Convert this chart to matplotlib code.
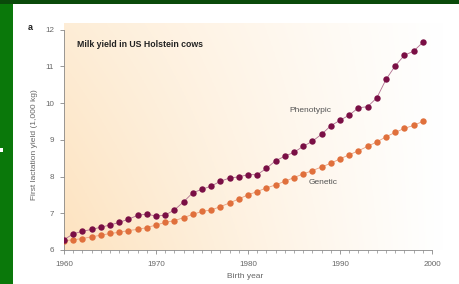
import numpy as np
import matplotlib
matplotlib.use("Agg")
import matplotlib.pyplot as plt
from matplotlib.patches import Rectangle
from matplotlib.colors import to_rgb

years = list(range(1960, 2000))

phenotypic = [6.28, 6.44, 6.51, 6.56, 6.62, 6.68, 6.75, 6.84, 6.94, 6.98,
              6.92, 6.95, 7.09, 7.31, 7.56, 7.65, 7.74, 7.87, 7.96, 7.99,
              8.05, 8.05, 8.22, 8.43, 8.55, 8.66, 8.82, 8.96, 9.15, 9.38,
              9.53, 9.67, 9.87, 9.90, 10.14, 10.64, 11.01, 11.30, 11.41, 11.65]

genetic = [6.25, 6.28, 6.31, 6.36, 6.40, 6.45, 6.48, 6.53, 6.56, 6.61,
           6.68, 6.75, 6.80, 6.88, 6.97, 7.05, 7.09, 7.18, 7.28, 7.39,
           7.50, 7.59, 7.69, 7.77, 7.87, 7.97, 8.07, 8.16, 8.26, 8.36,
           8.48, 8.59, 8.70, 8.82, 8.94, 9.08, 9.20, 9.31, 9.39, 9.50]

x_ticks = [1960, 1970, 1980, 1990, 2000]
y_ticks = [6, 7, 8, 9, 10, 11, 12]

plt.rcParams["font.family"] = ["Liberation Sans", "DejaVu Sans"]

W, H = 459, 284
fig = plt.figure(figsize=(W / 100, H / 100), dpi=100)
fig.patch.set_facecolor("#0a780a")

# white panel and dark top strip
fig.patches.append(Rectangle((13 / W, 0), 1, 1 - 4 / H, transform=fig.transFigure,
                             facecolor="white", edgecolor="none", zorder=-10))
fig.patches.append(Rectangle((0, 1 - 4 / H), 1, 4 / H, transform=fig.transFigure,
                             facecolor="#0a4a0a", edgecolor="none", zorder=-10))
fig.patches.append(Rectangle((0, 1 - 152 / H), 3 / W, 4 / H, transform=fig.transFigure,
                             facecolor="white", edgecolor="none", zorder=-10))

ax = fig.add_axes([64 / W, 1 - 250 / H, 368 / W, 220.5 / H])
ax.set_facecolor("none")

# peach gradient background
nx, ny = 200, 100
xn = np.linspace(0, 1, nx)[None, :]
yn = np.linspace(0, 1, ny)[:, None]
w = np.clip((1 - xn) ** 1.1 * (0.65 + 0.35 * (1 - yn)), 0, 1)
peach = np.array(to_rgb("#fde3c0"))
img = 1 - w[..., None] * (1 - peach)
ax.imshow(img, extent=[1960, 2001.2, 6, 12.15], origin="lower", aspect="auto",
          zorder=0, clip_on=False)

ax.plot(years, genetic, color="#e8a080", lw=0.6, zorder=2)
ax.plot(years, genetic, "o", color="#e0703c", ms=4.6, mec="none", zorder=3)
ax.plot(years, phenotypic, color="#b07090", lw=0.6, zorder=4)
ax.plot(years, phenotypic, "o", color="#7a0f45", ms=4.6, mec="none", zorder=5)

ax.set_xlim(1960, 2000)
ax.set_ylim(6, 12)
ax.set_xticks(x_ticks)
ax.set_xticks(years + [2000], minor=True)
ax.set_yticks(y_ticks)

for s in ["top", "right"]:
    ax.spines[s].set_visible(False)
for s in ["left", "bottom"]:
    ax.spines[s].set_color("#888888")
    ax.spines[s].set_linewidth(0.6)

ax.tick_params(axis="both", which="major", length=3, width=0.6, color="#888888",
               labelsize=5.8, labelcolor="#666666", pad=4)
ax.tick_params(axis="x", which="minor", length=2, width=0.5, color="#888888")
ax.tick_params(axis="x", which="major", pad=5)

ax.text(0.035, 0.93, "Milk yield in US Holstein cows", transform=ax.transAxes,
        fontsize=6.3, fontweight="bold", color="#222222", va="center")
ax.text(1986.8, 9.8, "Phenotypic", fontsize=6, color="#555555", ha="center", va="center")
ax.text(1988.2, 7.85, "Genetic", fontsize=6, color="#555555", ha="center", va="center")

fig.text(30 / W, 1 - 28 / H, "a", fontsize=6.5, fontweight="bold", color="#222222",
         ha="center", va="center")
fig.text(34 / W, 1 - 145 / H, "First lactation yield (1,000 kg)", rotation=90,
         fontsize=6, color="#666666", ha="center", va="center")
fig.text(245 / W, 1 - 276 / H, "Birth year", fontsize=6, color="#666666",
         ha="center", va="center")

fig.savefig("out.png", dpi=100, facecolor=fig.get_facecolor())
